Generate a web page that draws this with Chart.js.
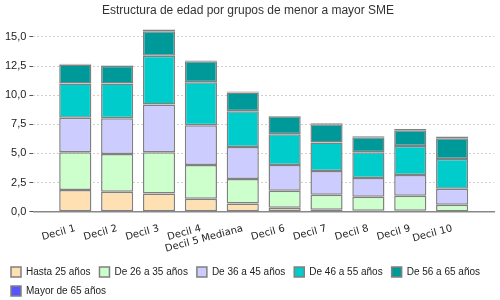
<!DOCTYPE html>
<html>
<head>
<meta charset="utf-8">
<script src="https://cdn.jsdelivr.net/npm/chart.js@4/dist/chart.umd.min.js"></script>
<style>
  html, body { margin: 0; padding: 0; background: #fff; }
  #wrap { width: 500px; height: 300px; }
</style>
</head>
<body>
<div id="wrap"><canvas id="edadChart"></canvas></div>
<script>
// categories
const deciles = ["Decil 1", "Decil 2", "Decil 3", "Decil 4", "Decil 5 Mediana",
  "Decil 6", "Decil 7", "Decil 8", "Decil 9", "Decil 10"];

// age groups (stacked, bottom to top)
const hasta25 = [1.87, 1.70, 1.56, 1.10, 0.71, 0.34, 0.17, 0.08, 0.08, 0.02];
const de26a35 = [3.24, 3.24, 3.55, 2.90, 2.10, 1.45, 1.28, 1.20, 1.28, 0.58];
const de36a45 = [2.96, 3.07, 4.09, 3.41, 2.73, 2.21, 2.05, 1.62, 1.79, 1.36];
const de46a55 = [2.93, 2.99, 4.18, 3.69, 3.07, 2.65, 2.43, 2.21, 2.48, 2.56];
const de56a65 = [1.62, 1.53, 2.10, 1.80, 1.62, 1.53, 1.57, 1.28, 1.36, 1.79];
const mayor65 = [0.08, 0.03, 0.15, 0.07, 0.08, 0.02, 0.08, 0.08, 0.10, 0.15];

const yTicks = [0, 2.5, 5, 7.5, 10, 12.5, 15];

const series = [
  { label: "Hasta 25 años", data: hasta25, color: "#ffe0b3" },
  { label: "De 26 a 35 años", data: de26a35, color: "#ccffcc" },
  { label: "De 36 a 45 años", data: de36a45, color: "#ccccff" },
  { label: "De 46 a 55 años", data: de46a55, color: "#00cccc" },
  { label: "De 56 a 65 años", data: de56a65, color: "#009999" },
  { label: "Mayor de 65 años", data: mayor65, color: "#5555ff" },
];

const ctx = document.getElementById("edadChart").getContext("2d");
new Chart(ctx, {
  type: "bar",
  data: {
    labels: deciles,
    datasets: series.map(s => ({
      label: s.label,
      data: s.data,
      backgroundColor: s.color,
      borderColor: "#808080",
      borderWidth: 1.5,
      borderSkipped: false,
      categoryPercentage: 0.8,
      barPercentage: 0.96,
    })),
  },
  options: {
    responsive: true,
    maintainAspectRatio: false,
    animation: false,
    layout: { padding: { left: 2, right: 6, top: 0, bottom: -6 } },
    plugins: {
      title: {
        display: true,
        text: "Estructura de edad por grupos de menor a mayor SME",
        color: "#333",
        font: { family: "Liberation Sans", size: 12, weight: "normal" },
        padding: { top: 3, bottom: 9 },
      },
      legend: {
        position: "bottom",
        align: "start",
        labels: {
          boxWidth: 10,
          boxHeight: 10,
          padding: 9,
          color: "#222",
          font: { family: "Liberation Sans", size: 10 },
        },
      },
      tooltip: { enabled: false },
    },
    scales: {
      x: {
        stacked: true,
        grid: { display: false },
        border: { color: "#888", width: 1.5 },
        // half an empty slot on each side, like the original
        afterBuildTicks: axis => {
          axis._startValue = -1;
          axis._valueRange = deciles.length + 1;
        },
        ticks: {
          color: "#222",
          font: { family: "DejaVu Sans", size: 10 },
          minRotation: 15,
          maxRotation: 15,
          autoSkip: false,
          padding: 3,
        },
      },
      y: {
        stacked: true,
        min: 0,
        max: 15.9,
        afterBuildTicks: axis => {
          axis.ticks = yTicks.map(v => ({ value: v }));
        },
        border: { display: false, dash: [2, 2] },
        grid: {
          color: "#d0d0d0",
          tickColor: "#555",
          tickLength: 4,
        },
        ticks: {
          color: "#222",
          font: { family: "Liberation Sans", size: 11 },
          padding: 3,
          callback: v => v.toFixed(1).replace(".", ","),
        },
      },
    },
  },
});
</script>
</body>
</html>
